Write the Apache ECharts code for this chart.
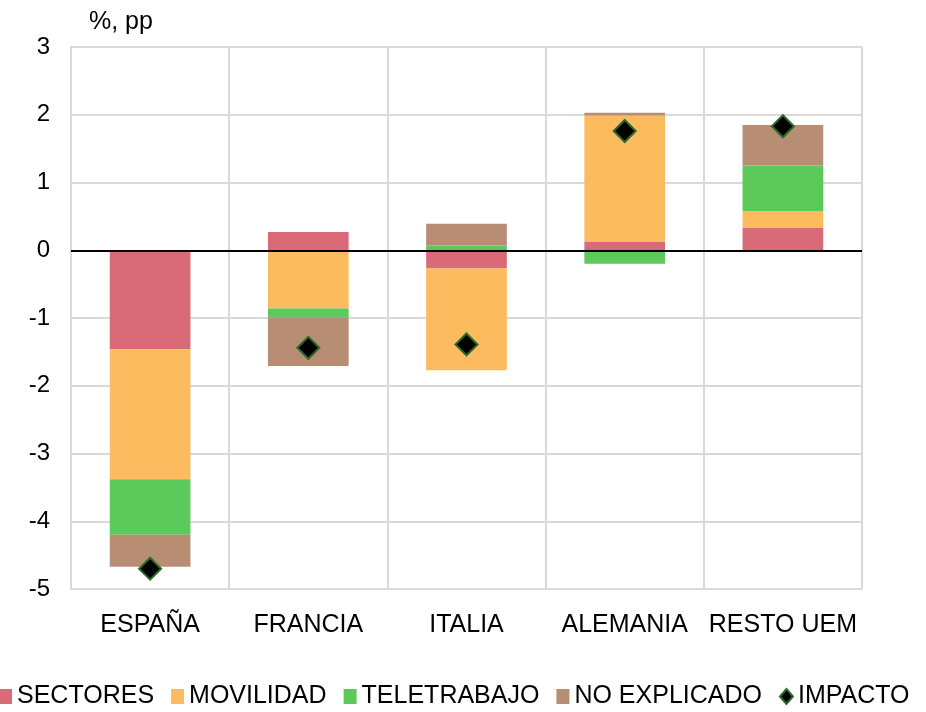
<!DOCTYPE html>
<html>
<head>
<meta charset="utf-8">
<script src="https://cdn.jsdelivr.net/npm/echarts@6/dist/echarts.min.js"></script>
<style>
  html, body { margin: 0; padding: 0; background: #fff; }
  #chart { width: 926px; height: 712px; }
</style>
</head>
<body>
<div id="chart"></div>
<script>
// datos
const paises = ['ESPAÑA', 'FRANCIA', 'ITALIA', 'ALEMANIA', 'RESTO UEM']
const sectores = [-1.46, 0.27, -0.27, 0.13, 0.33]
const movilidad = [-1.92, -0.86, -1.50, 1.86, 0.25]
const teletrabajo = [-0.82, -0.13, 0.07, -0.20, 0.67]
const noExplicado = [-0.47, -0.72, 0.32, 0.04, 0.60]
const impacto = [-4.70, -1.44, -1.39, 1.76, 1.83]

const fuente = 'Liberation Sans, Arial, sans-serif'
const gris = '#d9d9d9'

const chart = echarts.init(document.getElementById('chart'))

function barra(nombre, datos, color) {
  return {
    name: nombre,
    type: 'bar',
    stack: 'total',
    barWidth: '51%',
    data: datos,
    itemStyle: { color: color },
    emphasis: { disabled: true }
  }
}

const option = {
  animation: false,
  textStyle: { fontFamily: fuente },
  title: {
    text: '%, pp',
    left: 84,
    top: 5,
    textStyle: { fontFamily: fuente, fontSize: 25, fontWeight: 'normal', color: '#000' }
  },
  grid: { left: 71, right: 64, top: 47, bottom: 123 },
  legend: {
    left: -6,
    bottom: -2,
    itemWidth: 13,
    itemHeight: 15,
    itemGap: 17,
    textStyle: { fontFamily: fuente, fontSize: 25, color: '#000' },
    data: [
      { name: 'SECTORES', icon: 'rect' },
      { name: 'MOVILIDAD', icon: 'rect' },
      { name: 'TELETRABAJO', icon: 'rect' },
      { name: 'NO EXPLICADO', icon: 'rect' },
      { name: 'IMPACTO', icon: 'diamond' }
    ]
  },
  xAxis: {
    type: 'category',
    data: paises,
    axisLine: { show: false },
    axisTick: { show: false },
    axisLabel: { fontSize: 25, color: '#000', margin: 24, interval: 0 },
    splitLine: { show: true, lineStyle: { color: gris, width: 2 } }
  },
  yAxis: {
    type: 'value',
    min: -5,
    max: 3,
    interval: 1,
    axisLine: { show: true, lineStyle: { color: gris, width: 2 } },
    axisTick: { show: false },
    axisLabel: { fontSize: 24, color: '#000', margin: 21 },
    splitLine: { lineStyle: { color: gris, width: 2 } }
  },
  series: [
    barra('SECTORES', sectores, '#d96b78'),
    barra('MOVILIDAD', movilidad, '#fdbb5f'),
    barra('TELETRABAJO', teletrabajo, '#5cc95b'),
    Object.assign(barra('NO EXPLICADO', noExplicado, '#b78e74'), {
      markLine: {
        silent: true,
        symbol: 'none',
        label: { show: false },
        lineStyle: { color: '#000', width: 2, type: 'solid' },
        data: [{ yAxis: 0 }]
      }
    }),
    {
      name: 'IMPACTO',
      type: 'scatter',
      symbol: 'diamond',
      symbolSize: 22,
      data: impacto,
      z: 5,
      itemStyle: { color: '#000', borderColor: '#2a6a2a', borderWidth: 2, opacity: 1 }
    }
  ]
}

chart.setOption(option)
</script>
</body>
</html>
